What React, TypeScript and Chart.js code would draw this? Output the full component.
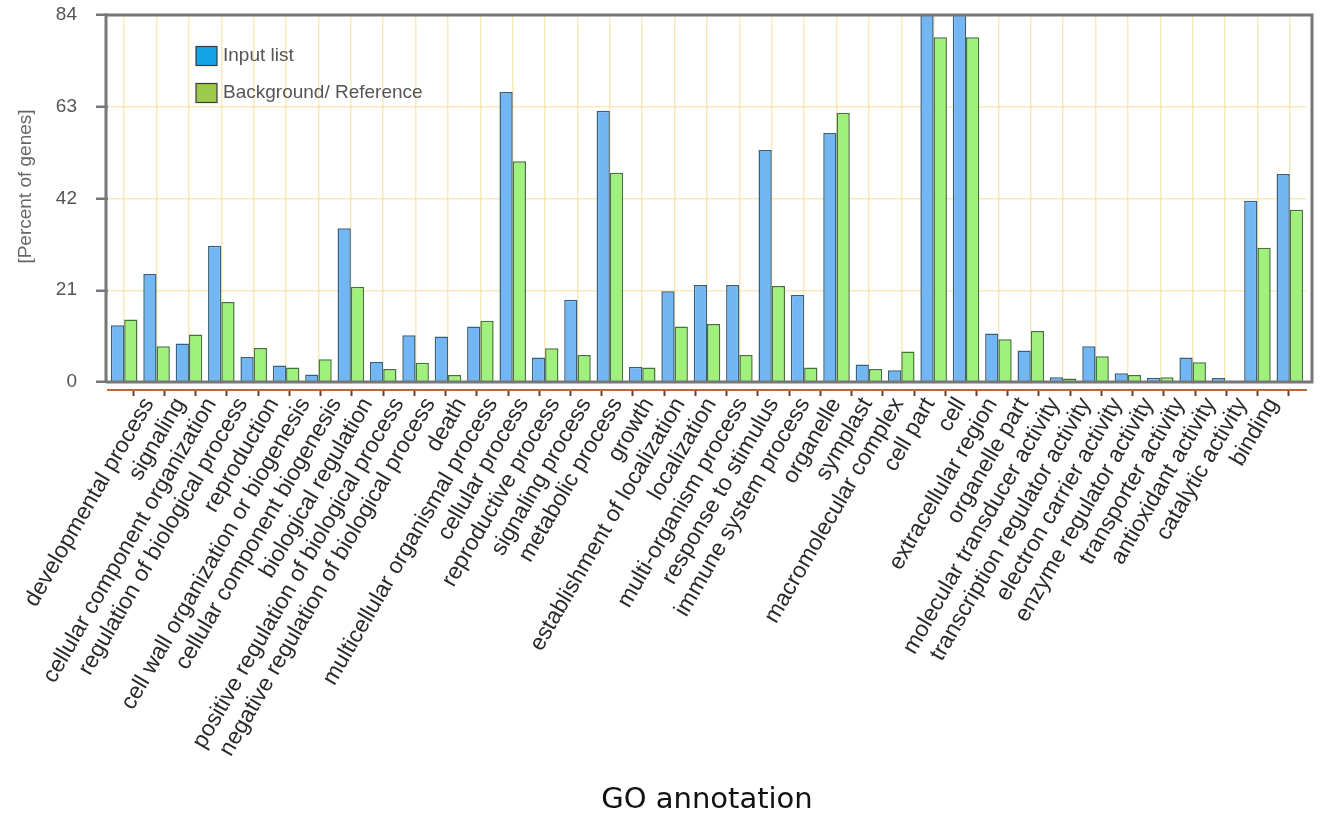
import React, { useEffect, useRef } from 'react';
import { Chart, registerables } from 'chart.js';

Chart.register(...registerables);

// GO terms along the x axis
const categories = [
  'developmental process',
  'signaling',
  'cellular component organization',
  'regulation of biological process',
  'reproduction',
  'cell wall organization or biogenesis',
  'cellular component biogenesis',
  'biological regulation',
  'positive regulation of biological process',
  'negative regulation of biological process',
  'death',
  'multicellular organismal process',
  'cellular process',
  'reproductive process',
  'signaling process',
  'metabolic process',
  'growth',
  'establishment of localization',
  'localization',
  'multi-organism process',
  'response to stimulus',
  'immune system process',
  'organelle',
  'symplast',
  'macromolecular complex',
  'cell part',
  'cell',
  'extracellular region',
  'organelle part',
  'molecular transducer activity',
  'transcription regulator activity',
  'electron carrier activity',
  'enzyme regulator activity',
  'transporter activity',
  'antioxidant activity',
  'catalytic activity',
  'binding',
];

// Percent of genes per term
const inputList = [
  13.0, 24.7, 8.8, 31.2, 5.7, 3.8, 1.7, 35.2, 4.6, 10.7, 10.4, 12.7, 66.4, 5.6, 18.8, 62.1, 3.5, 20.8, 22.2,
  22.2, 53.1, 19.9, 57.0, 4.0, 2.7, 87.0, 87.0, 11.1, 7.2, 1.1, 8.2, 2.0, 0.95, 5.6, 0.9, 41.5, 47.6,
];
const backgroundReference = [
  14.3, 8.2, 10.9, 18.3, 7.8, 3.3, 5.2, 21.8, 3.0, 4.4, 1.6, 14.0, 50.5, 7.7, 6.2, 47.9, 3.3, 12.7, 13.3,
  6.2, 22.0, 3.3, 61.6, 3.0, 7.0, 78.9, 78.9, 9.8, 11.7, 0.8, 5.9, 1.6, 1.1, 4.5, 0.2, 30.7, 39.4,
];

const seriesNames = ['Input list', 'Background/ Reference'];
const yTickValues = [0, 21, 42, 63, 84];
const yAxisTitle = '[Percent of genes]';
const xAxisTitle = 'GO annotation';

const SANS = '"Liberation Sans", Arial, Helvetica, sans-serif';
const GRID_YELLOW = 'rgba(246, 214, 120, 0.5)';
const FRAME_GRAY = '#777777';
const AXIS_BROWN = '#b8693a';
const TICK_BROWN = '#6b3d1e';
const LEGEND_FILLS = ['#14a2e8', '#9ccb4b'];

// layout of the plot box inside the canvas
const PLOT_TOP = 15;
const PLOT_LEFT = 108;
const PLOT_RIGHT_GAP = 17;
const PLOT_BOTTOM = 390;

const framePlugin = {
  id: 'plotFrame',
  beforeDatasetsDraw(chart: any) {
    // keep the strip between the zero line and the lower axis clean
    const { ctx, chartArea, scales } = chart;
    const y0 = scales.y.getPixelForValue(0);
    ctx.save();
    ctx.fillStyle = '#ffffff';
    ctx.fillRect(chartArea.left - 4, y0 + 2, chartArea.right - chartArea.left + 14, chartArea.bottom - y0 - 3.5);
    ctx.restore();
  },
  afterDatasetsDraw(chart: any) {
    const { ctx, chartArea, scales } = chart;
    const y0 = scales.y.getPixelForValue(0);
    const yTop = scales.y.getPixelForValue(84);
    const l = chartArea.left - 2;
    const r = chartArea.right + 6;
    ctx.save();
    ctx.strokeStyle = FRAME_GRAY;
    ctx.lineWidth = 3;
    ctx.beginPath();
    ctx.moveTo(l, y0);
    ctx.lineTo(l, yTop);
    ctx.lineTo(r, yTop);
    ctx.lineTo(r, y0);
    ctx.lineTo(l, y0);
    ctx.stroke();
    ctx.restore();
  },
  afterDraw(chart: any) {
    const { ctx, chartArea, scales } = chart;
    ctx.save();

    // value axis title, rotated, a little above the middle of the value range
    const yMid = (scales.y.getPixelForValue(0) + scales.y.getPixelForValue(84)) / 2 - 12;
    ctx.translate(26, yMid);
    ctx.rotate(-Math.PI / 2);
    ctx.font = `19px ${SANS}`;
    ctx.fillStyle = '#666666';
    ctx.textAlign = 'center';
    ctx.textBaseline = 'middle';
    ctx.fillText(yAxisTitle, 0, 0);
    ctx.setTransform(1, 0, 0, 1, 0, 0);

    // legend box inside the plot, upper left
    const x = chartArea.left + 88;
    const rows = [chartArea.top + 41, chartArea.top + 78];
    ctx.font = `19px ${SANS}`;
    ctx.textBaseline = 'middle';
    ctx.textAlign = 'left';
    seriesNames.forEach((name, i) => {
      const cy = rows[i];
      ctx.fillStyle = LEGEND_FILLS[i];
      ctx.fillRect(x, cy - 9.5, 21, 19);
      ctx.strokeStyle = '#3a3a3a';
      ctx.lineWidth = 1.2;
      ctx.strokeRect(x, cy - 9.5, 21, 19);
      ctx.fillStyle = '#555555';
      ctx.fillText(name, x + 27, cy);
    });
    ctx.restore();
  },
};

export default function App() {
  const canvasRef = useRef<HTMLCanvasElement | null>(null);

  useEffect(() => {
    const canvas = canvasRef.current;
    if (!canvas) return;
    Chart.defaults.font.family = SANS;

    const chart = new Chart(canvas, {
      type: 'bar',
      data: {
        labels: categories,
        datasets: [
          {
            label: seriesNames[0],
            data: inputList,
            backgroundColor: '#72b7f4',
            borderColor: '#35607e',
            borderWidth: 1.5,
            categoryPercentage: 0.82,
            barPercentage: 1.0,
            clip: 0,
          },
          {
            label: seriesNames[1],
            data: backgroundReference,
            backgroundColor: '#a0f07c',
            borderColor: '#45743a',
            borderWidth: 1.5,
            categoryPercentage: 0.82,
            barPercentage: 1.0,
            clip: 0,
          },
        ],
      },
      plugins: [framePlugin],
      options: {
        animation: false,
        responsive: true,
        maintainAspectRatio: false,
        devicePixelRatio: 1,
        layout: { padding: { top: PLOT_TOP, right: PLOT_RIGHT_GAP, left: 0, bottom: 0 } },
        plugins: {
          legend: { display: false },
          tooltip: { enabled: false },
        },
        scales: {
          // category axis carrying the bars and the vertical grid
          x: {
            type: 'category',
            position: 'bottom',
            weight: 0,
            offset: true,
            grid: { offset: false, color: GRID_YELLOW, lineWidth: 1.5, drawTicks: false },
            border: { display: false },
            ticks: { display: false },
            afterFit: (s: any) => {
              s.height = 0;
              s.paddingLeft = 0;
              s.paddingRight = 0;
            },
          },
          // brown axis line with tick marks, rotated term labels and the axis title
          x2: {
            type: 'linear',
            position: 'bottom',
            weight: 1,
            min: -0.788,
            max: 36.53,
            afterBuildTicks: (s: any) => {
              s.ticks = categories.map((_, i) => ({ value: i }));
            },
            afterFit: (s: any) => {
              s.height = s.chart.height - PLOT_BOTTOM;
              s.paddingLeft = 0;
              s.paddingRight = 0;
            },
            grid: { drawOnChartArea: false, tickColor: TICK_BROWN, tickLength: 6, tickWidth: 2 },
            border: { color: AXIS_BROWN, width: 2 },
            ticks: {
              autoSkip: false,
              minRotation: 60,
              maxRotation: 60,
              padding: -3,
              color: '#2a2a2a',
              font: { size: 23 },
              callback: (v: any) => categories[v] ?? '',
            },
            title: {
              display: true,
              text: xAxisTitle,
              color: '#111111',
              font: { family: '"DejaVu Sans", Verdana, sans-serif', size: 29 },
              padding: { top: 0, bottom: -4 },
            },
          },
          y: {
            type: 'linear',
            min: -1.83,
            max: 84,
            afterBuildTicks: (s: any) => {
              s.ticks = yTickValues.map((v) => ({ value: v }));
            },
            afterFit: (s: any) => {
              s.width = PLOT_LEFT;
              s.paddingTop = 0;
              s.paddingBottom = 0;
            },
            grid: {
              color: (c: any) =>
                c.tick && (c.tick.value === 0 || c.tick.value === 84) ? 'rgba(0,0,0,0)' : GRID_YELLOW,
              lineWidth: 1.5,
              tickColor: FRAME_GRAY,
              tickLength: 12,
              tickWidth: 2.5,
            },
            border: { display: false },
            ticks: { color: '#555555', font: { size: 19 }, padding: 19 },
            title: { display: false },
          },
        },
      },
    } as any);

    return () => chart.destroy();
  }, []);

  return (
    <div style={{ position: 'fixed', left: 0, top: 0, width: 1323, height: 814, background: '#ffffff' }}>
      <canvas ref={canvasRef} />
    </div>
  );
}
